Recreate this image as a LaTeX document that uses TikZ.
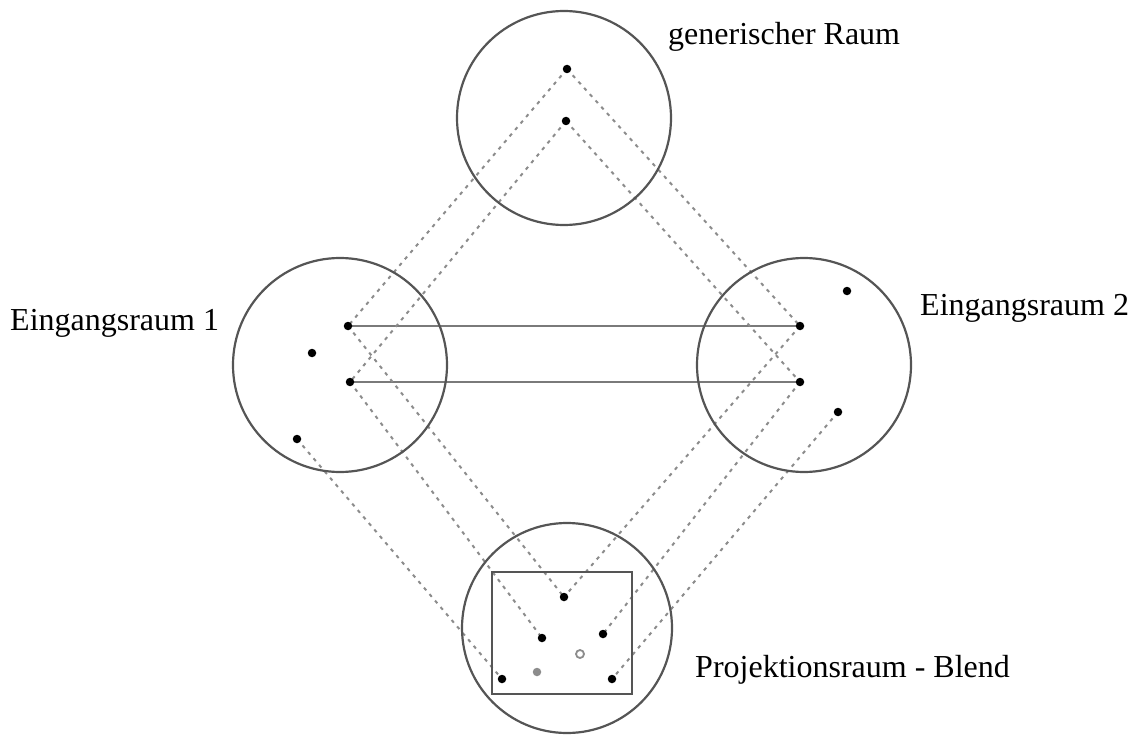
\documentclass[tikz,border=0pt]{standalone}
\usepackage{fontspec}
\setmainfont{Liberation Serif}
\usepackage{tikz}
\usetikzlibrary{backgrounds}
\definecolor{rim}{HTML}{555555}
\definecolor{trace}{HTML}{8C8C8C}
\definecolor{link}{HTML}{7A7A7A}

\begin{document}
\begin{tikzpicture}[x=1pt,y=-1pt,
    space/.style={circle,draw=rim,line width=2.2pt,minimum size=214pt,inner sep=0pt},
    dot/.style={circle,fill=black,minimum size=8.5pt,inner sep=0pt},
    map/.style={trace,line width=2pt,dash pattern=on 3.5pt off 5pt},
    counterpart/.style={link,line width=2.6pt},
    label/.style={anchor=base west,inner sep=0pt,font=\fontsize{32}{36}\selectfont}]
  \useasboundingbox (0,0) rectangle (1137,735);
  % the four spaces
  \node[space] (generic) at (564,118) {};
  \node[space] (input1) at (340,365) {};
  \node[space] (input2) at (804,365) {};
  \node[space,minimum size=210pt] (blend) at (567,628) {};
  \node[draw=rim,line width=2.2pt,minimum width=140pt,minimum height=122pt,inner sep=0pt] (blendbox) at (562,633) {};
  % elements
  \node[dot] (g1) at (567,69) {};
  \node[dot] (g2) at (566,121) {};
  \node[dot] (a1) at (348,326) {};
  \node[dot] (a2) at (350,382) {};
  \node[dot] (a3) at (312,353) {};
  \node[dot] (a4) at (297,439) {};
  \node[dot] (b1) at (800,326) {};
  \node[dot] (b2) at (800,382) {};
  \node[dot] (b3) at (847,291) {};
  \node[dot] (b4) at (838,412) {};
  \node[dot] (c1) at (564,597) {};
  \node[dot] (c2) at (542,638) {};
  \node[dot] (c3) at (603,634) {};
  \node[circle,draw=trace,line width=1.8pt,minimum size=8pt,inner sep=0pt] (c4) at (580,654) {};
  \node[dot,fill=trace] (c5) at (537,672) {};
  \node[dot] (c6) at (502,679) {};
  \node[dot] (c7) at (612,679) {};
  \begin{pgfonlayer}{background}
    % cross-space mappings
    \draw[counterpart] (a1.center) -- (b1.center);
    \draw[counterpart] (a2.center) -- (b2.center);
    % projections
    \draw[map] (g1.center) -- (a1.center);
    \draw[map] (g1.center) -- (b1.center);
    \draw[map] (g2.center) -- (a2.center);
    \draw[map] (g2.center) -- (b2.center);
    \draw[map] (a1.center) -- (c1.center);
    \draw[map] (a2.center) -- (c2.center);
    \draw[map] (a4.center) -- (c6.center);
    \draw[map] (b1.center) -- (c1.center);
    \draw[map] (b2.center) -- (c3.center);
    \draw[map] (b4.center) -- (c7.center);
  \end{pgfonlayer}
  % labels
  \node[label] (genericlabel) at (668,45) {generischer Raum};
  \node[label] (input1label) at (10,330) {Eingangsraum 1};
  \node[label] (input2label) at (920,315) {Eingangsraum 2};
  \node[label] (blendlabel) at (695,677) {Projektionsraum - Blend};
\end{tikzpicture}
\end{document}
